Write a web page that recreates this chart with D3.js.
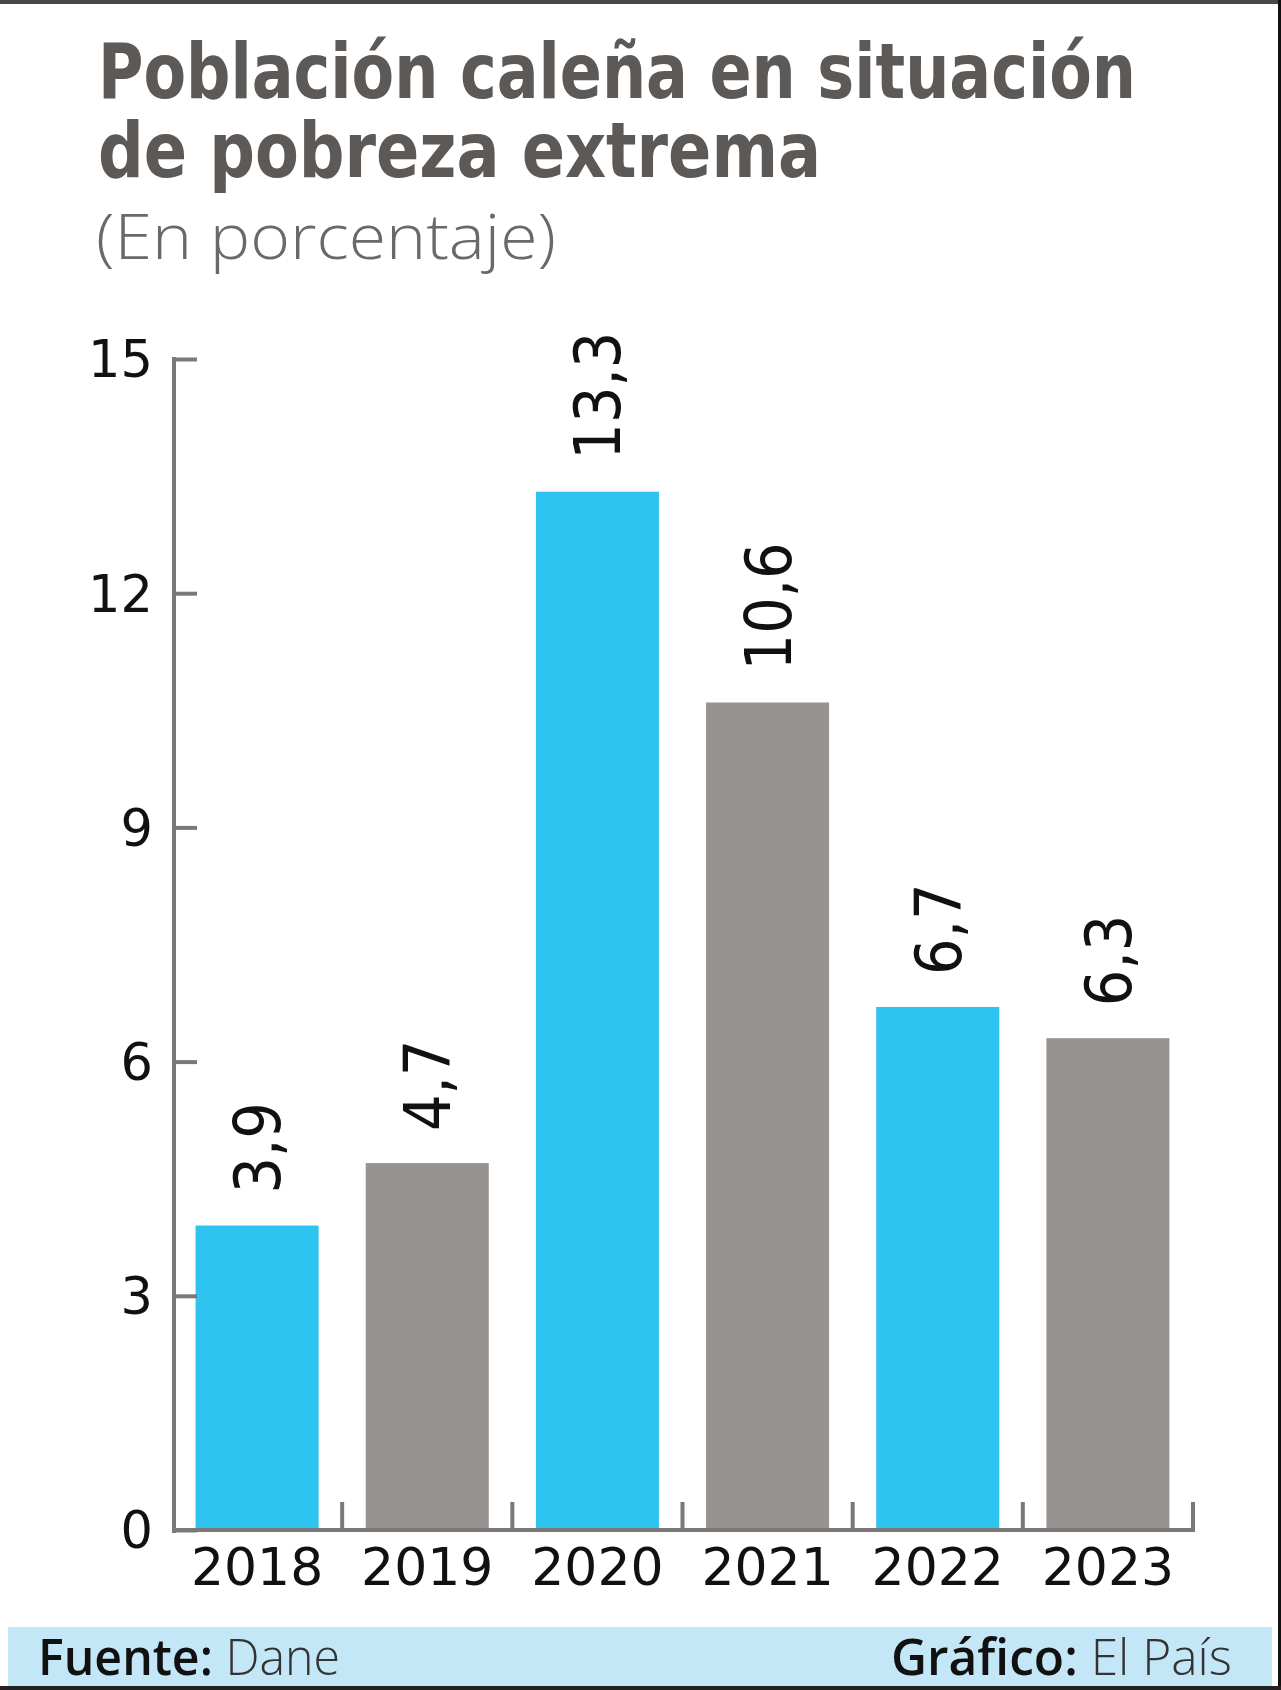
<!DOCTYPE html>
<html>
<head>
<meta charset="utf-8">
<script src="https://cdn.jsdelivr.net/npm/d3@7"></script>
<style>
  html, body { margin: 0; padding: 0; background: #fff; }
  svg { display: block; }
</style>
</head>
<body>
<svg id="chart" width="1281" height="1690"></svg>
<script>
const categories = ["2018", "2019", "2020", "2021", "2022", "2023"];
const values = [3.9, 4.7, 13.3, 10.6, 6.7, 6.3];
const valueLabels = ["3,9", "4,7", "13,3", "10,6", "6,7", "6,3"];
const yTicks = [0, 3, 6, 9, 12, 15];
const barColors = ["#2ec4ef", "#969390", "#2ec4ef", "#969390", "#2ec4ef", "#969390"];
const titleLines = ["Población caleña en situación", "de pobreza extrema"];

const svg = d3.select("#chart");
const W = 1281, H = 1690;

// frame
svg.append("rect").attr("x", 0).attr("y", 0).attr("width", W).attr("height", 4).attr("fill", "#4b4746");
svg.append("rect").attr("x", W - 3).attr("y", 0).attr("width", 3).attr("height", H).attr("fill", "#111");

// titles (one text element, two lines)
const titleFont = "'Liberation Sans Narrow', 'DejaVu Sans Condensed', sans-serif";
const title = svg.append("text")
  .attr("font-family", titleFont).attr("font-weight", 700).attr("font-size", 77)
  .attr("fill", "#5c5957");
const titleY = [98, 177], titleW = [1038, 723];
titleLines.forEach((t, i) => {
  title.append("tspan").attr("x", 98).attr("y", titleY[i])
    .attr("textLength", titleW[i]).attr("lengthAdjust", "spacingAndGlyphs")
    .text(t);
});
svg.append("text").attr("x", 96).attr("y", 259)
  .attr("font-family", "'Open Sans', sans-serif").attr("font-weight", 300).attr("font-size", 62)
  .attr("fill", "#6b6867").attr("textLength", 460).attr("lengthAdjust", "spacingAndGlyphs")
  .text("(En porcentaje)");

// scales
const x = d3.scaleBand().domain(categories).range([172, 1193]).paddingInner(0.277).paddingOuter(0.1385);
const y = d3.scaleLinear().domain([0, 15]).range([1530, 359]);
const axisColor = "#7b7877";

// bars
svg.append("g").selectAll("rect").data(values).join("rect")
  .attr("x", (d, i) => x(categories[i]))
  .attr("y", d => y(d))
  .attr("width", x.bandwidth())
  .attr("height", d => y(0) - y(d))
  .attr("fill", (d, i) => barColors[i]);

// y axis
const yAxis = svg.append("g").attr("transform", `translate(174,0)`)
  .call(d3.axisRight(y).tickValues(yTicks).tickSize(23).tickFormat(""));
yAxis.select(".domain").remove();
yAxis.selectAll(".tick line").attr("stroke", axisColor).attr("stroke-width", 4);
svg.append("line").attr("x1", 174).attr("x2", 174).attr("y1", 357).attr("y2", 1533)
  .attr("stroke", axisColor).attr("stroke-width", 4);

svg.append("g").selectAll("text").data(yTicks).join("text")
  .attr("x", 153).attr("y", d => y(d)).attr("dy", "0.36em")
  .attr("text-anchor", "end")
  .attr("font-family", "'DejaVu Sans', sans-serif").attr("font-size", 51)
  .attr("fill", "#111").text(d => d);

// x axis baseline and separators
svg.append("line").attr("x1", 172).attr("x2", 1195).attr("y1", y(0)).attr("y2", y(0))
  .attr("stroke", axisColor).attr("stroke-width", 4);
const boundaries = categories.map(c => x(c) - x.step() * x.paddingInner() / 2).slice(1)
  .concat([x(categories[categories.length - 1]) + x.bandwidth() + x.step() * x.paddingInner() / 2]);
svg.append("g").selectAll("line").data(boundaries).join("line")
  .attr("x1", d => d).attr("x2", d => d)
  .attr("y1", y(0)).attr("y2", y(0) - 28)
  .attr("stroke", axisColor).attr("stroke-width", 4);

svg.append("g").selectAll("text").data(categories).join("text")
  .attr("x", d => x(d) + x.bandwidth() / 2).attr("y", 1585)
  .attr("text-anchor", "middle")
  .attr("font-family", "'DejaVu Sans', sans-serif").attr("font-size", 52)
  .attr("fill", "#111").text(d => d);

// value labels
svg.append("g").selectAll("text").data(values).join("text")
  .attr("transform", (d, i) => `translate(${x(categories[i]) + x.bandwidth() / 2},${y(d) - 32}) rotate(-90)`)
  .attr("dy", "0.36em")
  .attr("text-anchor", "start")
  .attr("font-family", "'DejaVu Sans Condensed', 'DejaVu Sans', sans-serif").attr("font-size", 64)
  .attr("fill", "#111").text((d, i) => valueLabels[i]);

// footer
svg.append("rect").attr("x", 8).attr("y", 1627).attr("width", 1264).attr("height", 60).attr("fill", "#c4e7f8");
svg.append("rect").attr("x", 0).attr("y", 1686).attr("width", W).attr("height", 4).attr("fill", "#222");

const f1 = svg.append("text").attr("x", 38).attr("y", 1675)
  .attr("font-family", "'Open Sans', sans-serif").attr("font-size", 50)
  .attr("textLength", 302).attr("lengthAdjust", "spacingAndGlyphs");
f1.append("tspan").attr("font-weight", 600).attr("fill", "#111").text("Fuente: ");
f1.append("tspan").attr("font-weight", 300).attr("fill", "#333").text("Dane");

const f2 = svg.append("text").attr("x", 891).attr("y", 1675)
  .attr("font-family", "'Open Sans', sans-serif").attr("font-size", 50)
  .attr("textLength", 341).attr("lengthAdjust", "spacingAndGlyphs");
f2.append("tspan").attr("font-weight", 600).attr("fill", "#111").text("Gráfico: ");
f2.append("tspan").attr("font-weight", 300).attr("fill", "#333").text("El País");
</script>
</body>
</html>
